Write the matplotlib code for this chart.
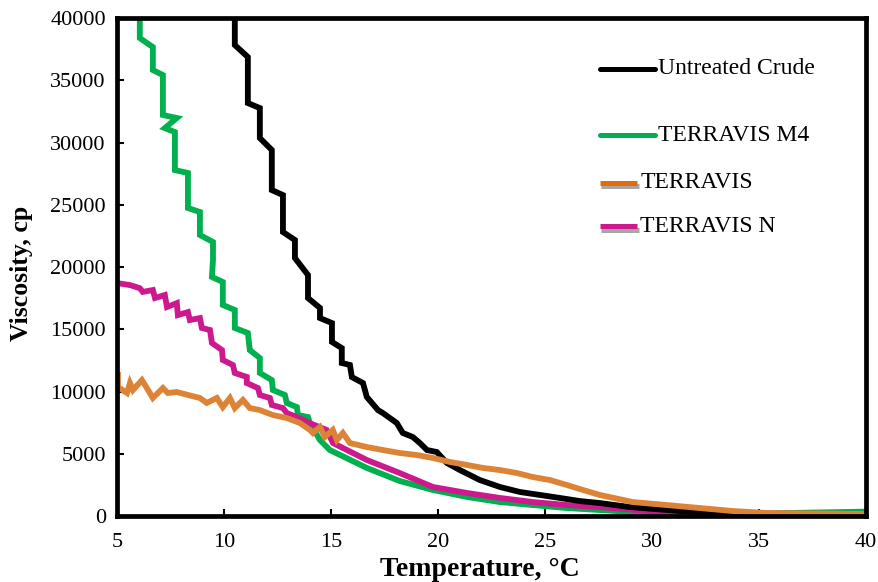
import matplotlib
matplotlib.use("Agg")
import matplotlib.pyplot as plt
import matplotlib.patheffects as pe
from matplotlib.lines import Line2D

plt.rcParams["font.family"] = ["Liberation Serif", "DejaVu Serif"]

# Untreated crude
t_crude = [10.51, 10.51, 10.51, 11.12, 11.12, 11.68, 11.68, 12.24, 12.24, 12.76, 12.76,
           13.32, 13.32, 13.93, 13.93, 14.49, 14.49, 15.05, 15.05, 15.51, 15.51, 15.89,
           15.98, 16.50, 16.68, 17.20, 17.43, 18.08, 18.36, 18.83, 19.16, 19.49, 19.95,
           20.42, 21.03, 21.96, 22.90, 23.83, 24.77, 25.70, 26.64, 27.57, 28.97, 31.3,
           34.6, 40.0]
v_crude = [41500, 40000, 37830, 36870, 33170, 32770, 30360, 29400, 26180, 25780, 22810,
           22170, 20720, 19360, 17510, 16710, 15900, 15500, 13980, 13490, 12290, 12130,
           11160, 10680, 9560, 8510, 8270, 7470, 6670, 6345, 5860, 5300, 5140,
           4260, 3690, 2890, 2330, 1930, 1690, 1450, 1200, 1040, 720, 400,
           160, 80]

# TERRAVIS M4
t_m4 = [6.07, 6.07, 6.07, 6.68, 6.68, 7.15, 7.15, 7.80, 7.24, 7.71, 7.71, 8.32, 8.32,
        8.88, 8.88, 9.49, 9.49, 9.44, 9.95, 9.95, 10.51, 10.51, 11.12, 11.21, 11.68,
        11.68, 12.24, 12.29, 12.85, 12.94, 13.41, 13.46, 13.93, 14.02, 14.49, 14.95,
        16.68, 18.22, 19.77, 21.36, 22.90, 24.44, 26.03, 27.57, 29.9, 32.2, 35.0, 40.0]
v_m4 = [41500, 40000, 38390, 37670, 35820, 35420, 32210, 31970, 31160, 30840, 27790, 27550, 24740,
        24420, 22570, 22010, 20560, 19200, 18800, 16950, 16550, 15100, 14700, 13330, 12690,
        11490, 10920, 10120, 9720, 9080, 8750, 8110, 7950, 7470, 6100, 5300,
        3860, 2810, 2090, 1530, 1120, 880, 640, 480, 240, 120, 200, 350]

# TERRAVIS
t_terr = [5.05, 5.05, 5.47, 5.61, 5.75, 6.17, 6.40, 6.68, 7.15, 7.38, 7.80, 8.32, 8.88,
          9.20, 9.67, 9.95, 10.28, 10.51, 10.89, 11.21, 11.68, 12.29, 12.94, 13.55, 14.02,
          14.16, 14.49, 14.72, 15.09, 15.28, 15.56, 15.89, 16.68, 17.43, 18.22, 19.00,
          19.77, 20.56, 21.36, 22.10, 22.90, 23.70, 24.44, 25.23, 26.03, 26.78, 27.57,
          29.11, 30.70, 32.24, 33.79, 35.37, 40.0]
v_terr = [11330, 10360, 9880, 10680, 10120, 10920, 10280, 9480, 10280, 9880, 9960, 9720, 9480,
          9080, 9480, 8750, 9480, 8670, 9320, 8670, 8510, 8110, 7870, 7470, 6910,
          6670, 7150, 6350, 6910, 6100, 6670, 5860, 5540, 5300, 5060, 4900,
          4660, 4340, 4100, 3860, 3690, 3450, 3130, 2890, 2490, 2090, 1690,
          1120, 880, 640, 400, 240, 160]

# TERRAVIS N
t_n = [5.0, 5.61, 6.07, 6.21, 6.68, 6.78, 7.24, 7.34, 7.80, 7.85, 8.32, 8.41, 8.88, 8.97,
       9.35, 9.44, 9.91, 9.95, 10.42, 10.51, 11.07, 11.07, 11.59, 11.68, 12.15, 12.24,
       12.76, 12.94, 13.41, 14.0, 14.8, 15.1, 16.68, 18.22, 19.77, 21.36, 22.90, 24.44,
       26.03, 27.57, 29.8, 32.85, 35.0, 40.0]
v_n = [18710, 18550, 18300, 18000, 18150, 17510, 17750, 16790, 17100, 16140, 16380, 15740, 15900, 15100,
       14940, 13900, 13330, 12530, 12130, 11490, 11170, 10680, 10280, 9720, 9480, 8920,
       8670, 8270, 7950, 7470, 6910, 5860, 4500, 3450, 2330, 1850, 1450, 1120,
       880, 720, 400, 80, 20, 0]

series = [
    ("TERRAVIS M4", t_m4, v_m4, "#00b04f"),
    ("TERRAVIS N", t_n, v_n, "#cc1a8e"),
    ("Untreated Crude", t_crude, v_crude, "#000000"),
    ("TERRAVIS", t_terr, v_terr, "#dd8335"),
]

fig = plt.figure(figsize=(8.79, 5.82), dpi=100)
ax = fig.add_axes([0.133, 0.1134, 0.852, 0.8556])

for name, t, v, color in series:
    ax.plot(t, v, color=color, lw=4.2, solid_joinstyle="miter", label=name)

ax.set_xlim(5, 40)
ax.set_ylim(0, 40000)
ax.set_xticks(range(5, 41, 5))
ax.set_yticks(range(0, 40001, 5000))
ax.tick_params(direction="in", length=5, width=1.5, labelsize=16,
               top=False, right=False)
ax.tick_params(axis="x", pad=12)
ax.tick_params(axis="y", pad=8)
for s in ax.spines.values():
    s.set_linewidth(3.4)

ax.set_xlabel("Temperature, \u00b0C", fontsize=20, fontweight="bold")
ax.set_ylabel("Viscosity, cp", fontsize=18.5, fontweight="bold")
ax.xaxis.set_label_coords(0.485, -0.083)
ax.yaxis.set_label_coords(-0.112, 0.488)

# hand-placed legend entries (uneven spacing as in the original)
legend_items = [
    ("Untreated Crude", "#000000", 0.645, 0.073, 0.102, False),
    ("TERRAVIS M4", "#00b04f", 0.645, 0.073, 0.235, False),
    ("TERRAVIS", "#e36c0a", 0.645, 0.050, 0.331, True),
    ("TERRAVIS N", "#cc1a8e", 0.645, 0.050, 0.418, True),
]
for label, color, x0, w, yoff, shadow in legend_items:
    y = 1 - yoff
    effects = [pe.SimpleLineShadow(offset=(1, -2.5), alpha=0.35), pe.Normal()] if shadow else None
    ln = Line2D([x0, x0 + w], [y, y], transform=ax.transAxes, color=color,
                lw=3.6, solid_capstyle="round" if not shadow else "butt",
                path_effects=effects, clip_on=False)
    ax.add_line(ln)
    ax.text(x0 + w + 0.004, y, label, transform=ax.transAxes, fontsize=17,
            va="center", ha="left")

fig.savefig("out.png", dpi=100)
